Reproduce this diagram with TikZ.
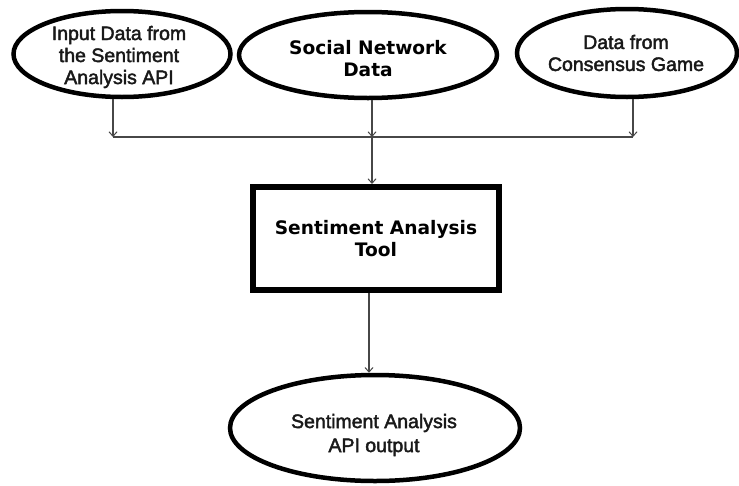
\documentclass[tikz,border=0pt]{standalone}
\usepackage{fontspec}
\setmainfont{Liberation Sans}
\newfontfamily\labelfont{Liberation Sans}[FakeBold=2.2]
\newfontfamily\heavyfont{DejaVu Sans Bold}
\usetikzlibrary{shapes.geometric,arrows.meta}

\tikzset{
  oval/.style={ellipse, draw=black, line width=4.5pt, inner sep=0pt},
  toolbox/.style={rectangle, draw=black, line width=6pt, inner sep=0pt,
    minimum width=246pt, minimum height=103pt},
  plaintext/.style={align=center, inner sep=0pt, text=black!90,
    font=\labelfont\fontsize{19.5}{22}\selectfont},
  heavytext/.style={align=center, inner sep=0pt,
    font=\heavyfont\fontsize{18.6}{22}\selectfont},
  conn/.style={draw=black!72, line width=1.1pt},
  tip/.style={-{Straight Barb[length=4.5pt,width=8pt,line width=1pt]}}
}

\begin{document}
\begin{tikzpicture}[x=1pt,y=-1pt]
  \useasboundingbox (0,0) rectangle (739,485);

  % data sources
  \node[oval, minimum width=217pt, minimum height=86pt] (src1) at (122,54) {};
  \node[oval, minimum width=258pt, minimum height=86pt] (src2) at (368,55) {};
  \node[oval, minimum width=220pt, minimum height=88pt] (src3) at (627,53) {};
  \node[plaintext] (src1txt) at (119,57) {Input Data from\\the Sentiment\\Analysis API};
  \node[heavytext] (src2txt) at (368,59) {Social Network\\Data};
  \node[plaintext] (src3txt) at (626,53) {Data from\\Consensus Game};

  % processing step
  \node[toolbox] (tool) at (376,238.5) {};
  \node[heavytext] (tooltxt) at (376,239) {Sentiment Analysis\\Tool};

  % result
  \node[oval, minimum width=290pt, minimum height=106pt] (out) at (375,428) {};
  \node[plaintext, font=\labelfont\fontsize{19.5}{24}\selectfont] (outtxt) at (374,435)
    {Sentiment Analysis\\API output};

  % junction points on the collecting line
  \coordinate (j1) at (113,137);
  \coordinate (j2) at (372,137);
  \coordinate (j3) at (633,137);
  \coordinate (t2) at (369,300);

  \draw[conn] (j1) -- (j3);
  \draw[conn,tip] (j1 |- src1.south) -- (j1);
  \draw[conn,tip] (j2 |- src2.south) -- (j2);
  \draw[conn,tip] (j3 |- src3.south) -- (j3);
  \draw[conn,tip] (j2) -- (j2 |- tool.north);
  \draw[conn,tip] (t2 |- tool.south) -- (t2 |- out.north);
\end{tikzpicture}
\end{document}
